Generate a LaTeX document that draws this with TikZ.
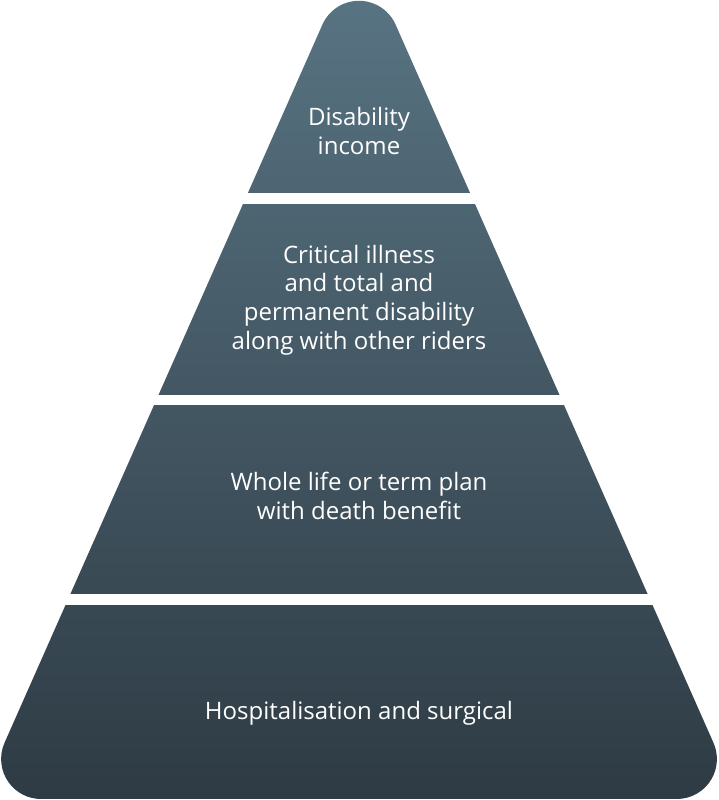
\documentclass[tikz,border=0pt]{standalone}
\usepackage{fontspec}
\setmainfont{Open Sans}
\begin{document}
\begin{tikzpicture}[x=1pt,y=1pt,
  lbl/.style={text=white,align=center,font=\fontsize{24}{28.8}\selectfont,inner sep=0pt}]
\definecolor{pyrtop}{RGB}{88,115,130}
\definecolor{pyrbot}{RGB}{46,59,68}
\useasboundingbox (0,0) rectangle (718,800);
\shade[top color=pyrtop,bottom color=pyrbot]
  (41.1,1) -- (676.9,1)
  arc[start angle=-90,end angle=23.89,radius=40]
  -- ([shift={(23.89:40)}]359,759.2)
  arc[start angle=23.89,end angle=156.11,radius=40]
  -- ([shift={(156.11:40)}]41.1,41)
  arc[start angle=156.11,end angle=270,radius=40]
  -- cycle;
\fill[white] (-30,596) rectangle (750,606.7);
\fill[white] (-30,394.5) rectangle (750,405);
\fill[white] (-30,195) rectangle (750,205.7);
\node[lbl] (t1) at (359,669) {Disability\\income};
\node[lbl] (t2) at (359,500) {Critical illness\\and total and\\permanent disability\\along with other riders};
\node[lbl] (t3) at (359,304) {Whole life or term plan\\with death benefit};
\node[lbl] (t4) at (359,87) {Hospitalisation and surgical};
\end{tikzpicture}
\end{document}
